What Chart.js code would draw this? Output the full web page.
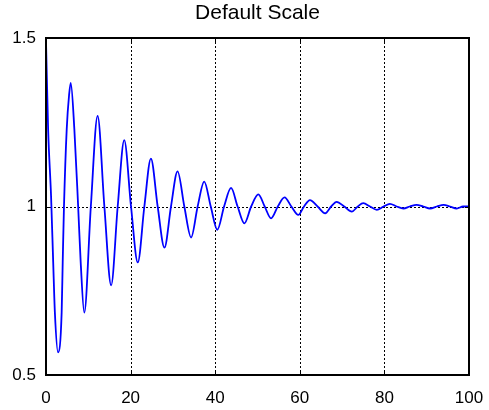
<!DOCTYPE html>
<html>
<head>
<meta charset="utf-8">
<script src="https://cdn.jsdelivr.net/npm/chart.js@4"></script>
<style>
    html, body { margin: 0; padding: 0; background: #fff; }
    canvas { display: block; }
</style>
</head>
<body>
<canvas id="myChart" width="489" height="410"></canvas>
<script>
let titleText = 'Default Scale';

// time samples and response (peaks, troughs and crossings of the decaying wave)
let tVals = [0, 0.5, 1.2, 1.7, 2.1, 2.85,
    3.7, 3.95, 4.25, 4.9, 5.45, 5.85,
    6.7, 7.6, 8.2, 9.05,
    10.6, 12.2, 13.8, 15.4, 16.95, 18.5, 20.1, 21.7,
    23.25, 24.8, 26.4, 28.0, 29.55, 31.1, 32.7, 34.3,
    35.85, 37.4, 38.95, 40.5, 42.1, 43.75, 45.3, 46.9,
    48.5, 50.2, 51.7, 53.2, 54.8, 56.4, 58.0, 59.65,
    61.0, 62.4, 64.2, 66.0, 67.4, 68.7, 70.5, 72.3,
    73.7, 75.0, 76.6, 78.2, 79.8, 81.3, 82.9, 84.5,
    86.0, 87.6, 89.2, 90.8, 92.4, 94.0, 95.5, 97.1,
    98.6, 100];
let yVals = [1.49, 1.23, 1.03, 0.835, 0.685, 0.567,
    0.685, 0.835, 1.0, 1.23, 1.33, 1.367,
    1.23, 1.0, 0.835, 0.685,
    1.0, 1.269, 1.0, 0.766, 1.0, 1.197, 1.0, 0.834,
    1.0, 1.142, 1.0, 0.878, 1.0, 1.104, 1.0, 0.908,
    1.0, 1.074, 1.0, 0.931, 1.0, 1.055, 1.0, 0.95,
    1.0, 1.036, 1.0, 0.965, 1.0, 1.027, 1.0, 0.975,
    1.0, 1.019, 1.0, 0.98, 1.0, 1.014, 1.0, 0.985,
    1.0, 1.01, 1.0, 0.99, 1.0, 1.008, 1.0, 0.994,
    1.0, 1.005, 1.0, 0.994, 1.0, 1.005, 1.0, 0.994,
    1.0, 1.0];

let xTicks = [0, 20, 40, 60, 80, 100];
let yTicks = [0.5, 1, 1.5];
let yTickLabels = ['0.5', '1', '1.5'];

const FONT = "'Liberation Sans', Arial, sans-serif";

// dotted grid under the line, box and inward tick marks over it
const axesBox = {
    id: 'axesBox',
    beforeDatasetsDraw(chart) {
        var ctx = chart.ctx, a = chart.chartArea;
        var sx = chart.scales.x, sy = chart.scales.y;
        ctx.save();
        ctx.strokeStyle = '#000';
        ctx.lineWidth = 1;
        ctx.setLineDash([2, 2]);
        xTicks.forEach(function(v) {
            if (v <= sx.min || v >= sx.max) return;
            var px = Math.round(sx.getPixelForValue(v)) + 0.5;
            ctx.beginPath();
            ctx.moveTo(px, a.top);
            ctx.lineTo(px, a.bottom);
            ctx.stroke();
        });
        yTicks.forEach(function(v) {
            if (v <= sy.min || v >= sy.max) return;
            var py = Math.round(sy.getPixelForValue(v)) + 0.5;
            ctx.beginPath();
            ctx.moveTo(a.left, py);
            ctx.lineTo(a.right, py);
            ctx.stroke();
        });
        ctx.restore();
    },
    afterDatasetsDraw(chart) {
        var ctx = chart.ctx, a = chart.chartArea;
        var sx = chart.scales.x, sy = chart.scales.y;
        var len = 4;
        ctx.save();
        ctx.strokeStyle = '#000';
        ctx.lineWidth = 1;
        ctx.beginPath();
        xTicks.forEach(function(v) {
            var px = Math.round(sx.getPixelForValue(v)) + 0.5;
            ctx.moveTo(px, a.bottom); ctx.lineTo(px, a.bottom - len);
            ctx.moveTo(px, a.top); ctx.lineTo(px, a.top + len);
        });
        yTicks.forEach(function(v) {
            var py = Math.round(sy.getPixelForValue(v)) + 0.5;
            ctx.moveTo(a.left, py); ctx.lineTo(a.left + len, py);
            ctx.moveTo(a.right, py); ctx.lineTo(a.right - len, py);
        });
        ctx.stroke();
        ctx.lineWidth = 2;
        ctx.strokeRect(a.left, a.top, a.right - a.left, a.bottom - a.top);
        ctx.restore();
    }
};

var ctx = document.getElementById('myChart').getContext('2d');
var myChart = new Chart(ctx, {
    type: 'line',
    data: {
        datasets: [{
            data: tVals.map(function(t, i) { return { x: t, y: yVals[i] }; }),
            borderColor: '#0000ff',
            borderWidth: 1.8,
            pointRadius: 0,
            fill: false,
            cubicInterpolationMode: 'monotone'
        }]
    },
    options: {
        responsive: false,
        animation: false,
        layout: { padding: { top: 0, right: 20, left: 0, bottom: 0 } },
        plugins: {
            legend: { display: false },
            tooltip: { enabled: false },
            title: {
                display: true,
                fullSize: false,
                text: titleText,
                color: '#000',
                font: { family: FONT, size: 21, weight: 'normal', lineHeight: 1.2 },
                padding: { top: 1, bottom: 11.8 }
            }
        },
        scales: {
            x: {
                type: 'linear',
                min: 0,
                max: 100,
                afterFit: function(scale) {
                    scale.height = 35;
                    scale.paddingLeft = 0;
                    scale.paddingRight = 0;
                },
                afterBuildTicks: function(scale) {
                    scale.ticks = xTicks.map(function(v) { return { value: v }; });
                },
                ticks: { color: '#000', padding: 13, maxRotation: 0, font: { family: FONT, size: 17 } },
                grid: { display: false, drawTicks: false },
                border: { display: false }
            },
            y: {
                min: 0.5,
                max: 1.5,
                afterFit: function(scale) {
                    scale.width = 46;
                    scale.paddingTop = 0;
                    scale.paddingBottom = 0;
                },
                afterBuildTicks: function(scale) {
                    scale.ticks = yTicks.map(function(v) { return { value: v }; });
                },
                ticks: {
                    color: '#000',
                    padding: 10,
                    font: { family: FONT, size: 17 },
                    callback: function(value, index) { return yTickLabels[index]; }
                },
                grid: { display: false, drawTicks: false },
                border: { display: false }
            }
        }
    },
    plugins: [axesBox]
});
</script>
</body>
</html>
